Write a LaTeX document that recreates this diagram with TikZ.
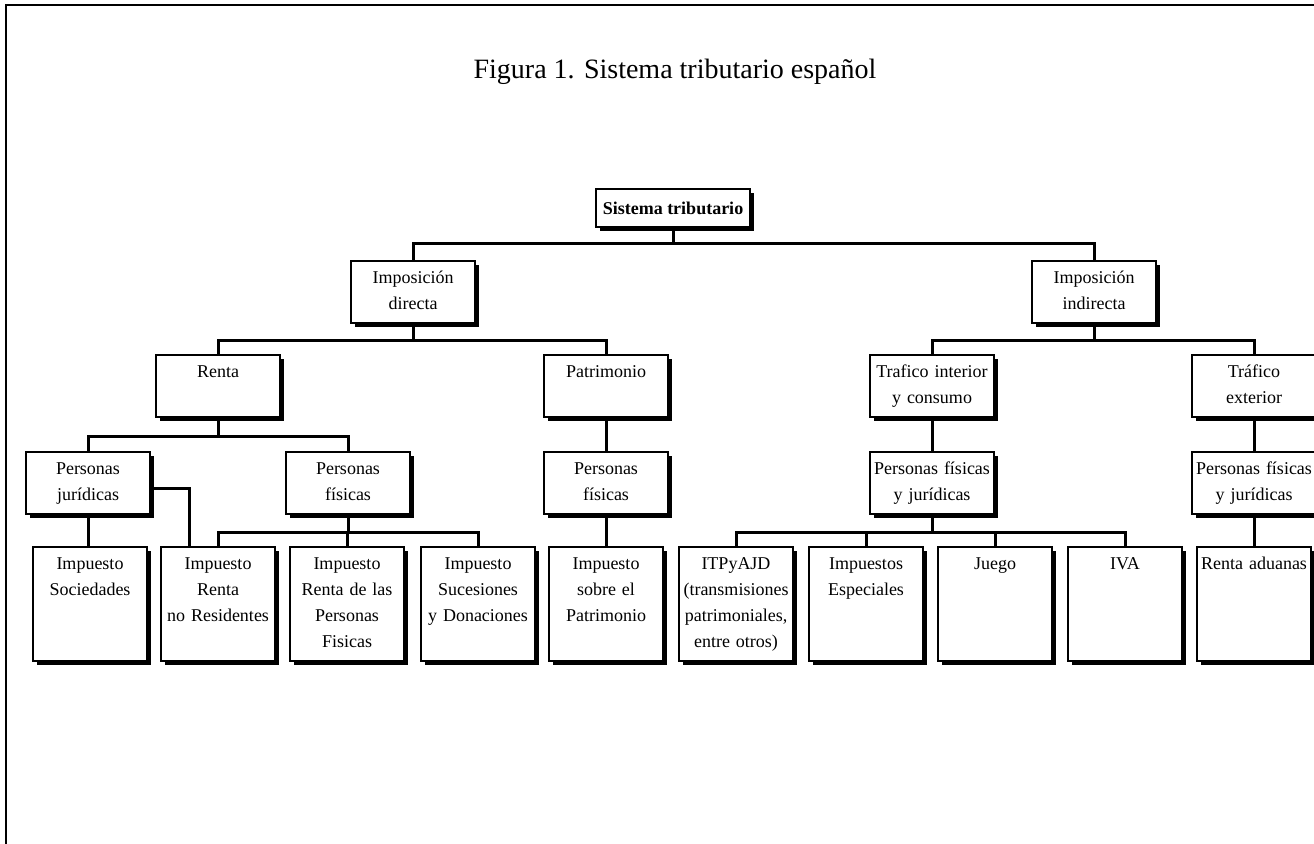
\documentclass[tikz,border=0pt]{standalone}
\usepackage{fontspec}
\setmainfont{Liberation Serif}
\usetikzlibrary{positioning,shadows}

\tikzset{
  caja/.style={draw, line width=1pt, fill=white, align=center, inner xsep=1pt, inner ysep=4pt,
    font=\fontsize{9}{13}\selectfont,
    drop shadow={shadow xshift=2pt, shadow yshift=-2pt, opacity=1, fill=black}},
  raiz/.style={caja, minimum width=77pt, minimum height=19pt, font=\fontsize{9}{13}\selectfont\bfseries},
  media/.style={caja, anchor=north, text width=60pt, text height=7.5pt, text depth=15.5pt},
  hoja/.style={caja, anchor=north, text width=55pt, text height=7.5pt, text depth=41.5pt},
  rama/.style={line width=1.5pt}
}

\begin{document}
\begin{tikzpicture}[x=0.5pt, y=-0.5pt]
\useasboundingbox (0,0) rectangle (1314,844);
\draw[line width=1pt] (6,844) -- (6,5) -- (1314,5);
\node (titulo) at (675,72) {\fontsize{14}{17}\selectfont Figura 1. Sistema tributario español};

\node[raiz] (sis) at (673,208) {Sistema tributario};
\node[media] (dir) at (413,260) {Imposición\\directa};
\node[media] (ind) at (1094,260) {Imposición\\indirecta};

\node[media] (renta) at (218,354) {Renta};
\node[media] (patr) at (606,354) {Patrimonio};
\node[media] (tint) at (932,354) {Trafico interior\\y consumo};
\node[media] (trext) at (1254,354) {Tráfico\\exterior};

\node[media] (pj) at (88,451) {Personas\\jurídicas};
\node[media] (pf) at (348,451) {Personas\\físicas};
\node[media] (pfpat) at (606,451) {Personas\\físicas};
\node[media] (pfj) at (932,451) {Personas físicas\\y jurídicas};
\node[media] (pfjext) at (1254,451) {Personas físicas\\y jurídicas};

\node[hoja] (isoc) at (90,546) {Impuesto\\Sociedades};
\node[hoja] (irnr) at (218,546) {Impuesto\\Renta\\no Residentes};
\node[hoja] (irpf) at (347,546) {Impuesto\\Renta de las\\Personas\\Fisicas};
\node[hoja] (isd) at (478,546) {Impuesto\\Sucesiones\\y Donaciones};
\node[hoja] (ipat) at (606,546) {Impuesto\\sobre el\\Patrimonio};
\node[hoja] (itp) at (736,546) {ITPyAJD\\(transmisiones\\patrimoniales,\\entre otros)};
\node[hoja] (iesp) at (866,546) {Impuestos\\Especiales};
\node[hoja] (juego) at (995,546) {Juego};
\node[hoja] (iva) at (1125,546) {IVA};
\node[hoja] (adu) at (1254,546) {Renta aduanas};

\draw[rama] (sis.south) -- ++(0,16) -| (dir.north);
\draw[rama] (sis.south) -- ++(0,16) -| (ind.north);
\draw[rama] (dir.south) -- ++(0,17) -| (renta.north);
\draw[rama] (dir.south) -- ++(0,17) -| (patr.north);
\draw[rama] (ind.south) -- ++(0,17) -| (tint.north);
\draw[rama] (ind.south) -- ++(0,17) -| (trext.north);
\draw[rama] (renta.south) -- ++(0,19) -| (pj.north);
\draw[rama] (renta.south) -- ++(0,19) -| (pf.north);
\draw[rama] (patr.south) -- (pfpat.north);
\draw[rama] (tint.south) -- (pfj.north);
\draw[rama] (trext.south) -- (pfjext.north);

\draw[rama] (pj.south) -- (pj.south |- isoc.north);
\draw[rama] ([yshift=-3pt]pj.east) -| ([xshift=-14.5pt]irnr.north);
\foreach \h in {irnr,irpf,isd}
  \draw[rama] (pf.south) -- ++(0,18) -| (\h.north);
\draw[rama] (pfpat.south) -- (ipat.north);
\foreach \h in {itp,iesp,juego,iva}
  \draw[rama] (pfj.south) -- ++(0,18) -| (\h.north);
\draw[rama] (pfjext.south) -- (adu.north);
\end{tikzpicture}
\end{document}
